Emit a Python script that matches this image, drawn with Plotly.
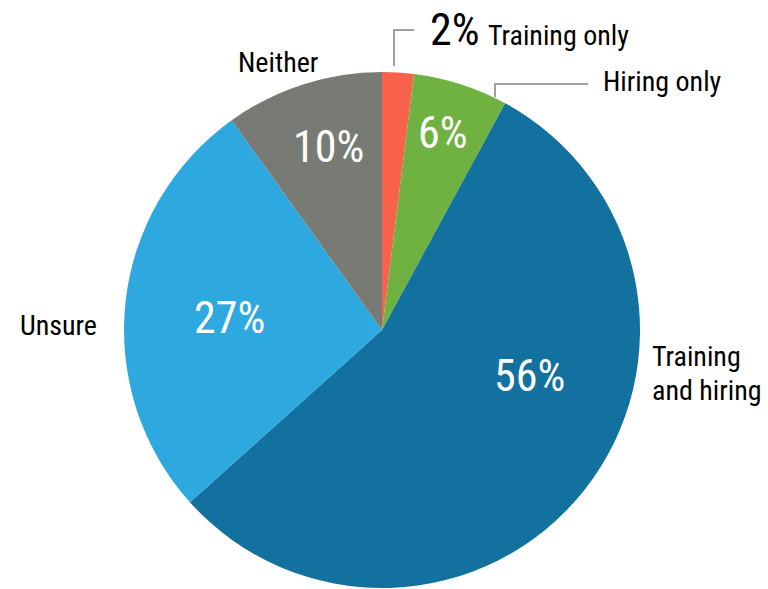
import plotly.graph_objects as go

labels = ["Training only", "Hiring only", "Training and hiring", "Unsure", "Neither"]
values = [2, 6, 56, 27, 10]
colors = ["#F8614A", "#70B242", "#12719E", "#2EA9DF", "#777B73"]

FONT = "Liberation Sans Narrow, Roboto Condensed, Arial Narrow, sans-serif"
W, H = 768, 589

fig = go.Figure(go.Pie(
    labels=labels, values=values, sort=False, direction="clockwise", rotation=0,
    marker=dict(colors=colors, line=dict(width=0)),
    textinfo="none", hoverinfo="label+percent", showlegend=False,
    domain=dict(x=[124 / W, 640 / W], y=[1 / H, 517 / H]),
))

def px(x, y):
    return x / W, 1 - y / H

anns = []
inner = {1: (443, 133), 4: (328, 147), 3: (229, 318), 2: (529, 376)}
for i, (x, y) in inner.items():
    ax, ay = px(x, y)
    anns.append(dict(x=ax, y=ay, text=f"{values[i]}%", showarrow=False,
                     xanchor="center", yanchor="middle",
                     font=dict(family=FONT, size=44, color="white")))

def lab(x, y, text, size=28, xanchor="left"):
    ax, ay = px(x, y)
    anns.append(dict(x=ax, y=ay, text=text, showarrow=False, xanchor=xanchor,
                     yanchor="middle",
                     font=dict(family=FONT, size=size, color="black")))

lab(428, 30, f"{values[0]}%", size=44)
lab(486, 35, labels[0])
lab(601, 82, labels[1])
lab(650, 357, "Training")
lab(650, 390, "and hiring")
lab(58, 325, labels[3], xanchor="center")
lab(278, 62, labels[4], xanchor="center")

fig.update_layout(
    width=W, height=H, margin=dict(l=0, r=0, t=0, b=0),
    paper_bgcolor="white", plot_bgcolor="white",
    annotations=anns,
    shapes=[
        dict(type="path", xref="paper", yref="paper",
             path=f"M {394/W} {1-66/H} L {394/W} {1-30/H} L {414/W} {1-30/H}",
             line=dict(color="#A0A0A0", width=2)),
        dict(type="path", xref="paper", yref="paper",
             path=f"M {495/W} {1-97/H} L {495/W} {1-84/H} L {588/W} {1-84/H}",
             line=dict(color="#A0A0A0", width=2)),
    ],
)
fig.write_html("out.html", config={"displayModeBar": False},
               post_script="document.body.style.margin='0';")
